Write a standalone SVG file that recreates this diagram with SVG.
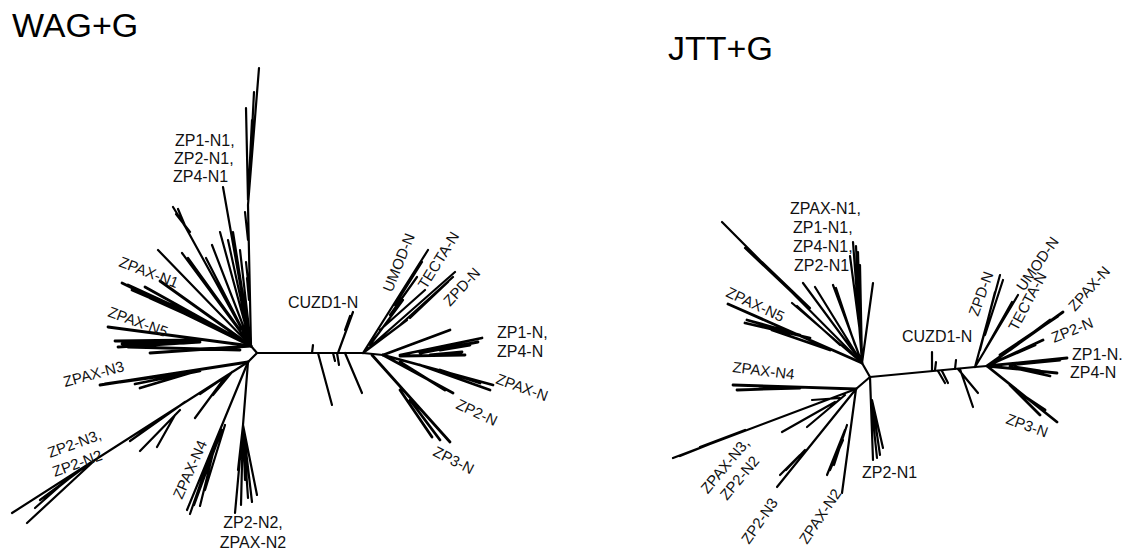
<svg xmlns="http://www.w3.org/2000/svg" width="1122" height="555" viewBox="0 0 1122 555">
<style>
.br{fill:none;stroke:#000;stroke-width:2.2;stroke-linecap:round;stroke-linejoin:round}
.th{stroke-width:2.8}
.lb{font-family:"Liberation Sans",Arial,sans-serif;font-size:16px;fill:#111}
.rt{font-size:15px}
.tt{font-family:"Liberation Sans",Arial,sans-serif;font-size:34px;fill:#000}
</style>
<rect width="1122" height="555" fill="#fff"/>
<g id="titles">
<text class="tt" x="12" y="37">WAG+G</text>
<text class="tt" x="668" y="60">JTT+G</text>
</g>
<g id="wag-tree">
<g id="wag-connectors">
<path class="br" d="M251,346 L257,353 L248,362 M257,353 L363,353 L383,355"/>
<path class="br" d="M251,346 L248,205 L259,68 M249,190 L254,92 M248,200 L246,108 M249,180 L252,120 M248,240 L245,212 M249,290 L246,262 M249,300 L247,278"/>
<path class="br" d="M251,346 L223,187 M251,346 L186,228 L173,207 M186,228 L178,209 M190,232 L176,214 M251,346 L182,253 M240,330 L188,258 M251,346 L158,250 M251,346 L220,232 M251,346 L212,245 M251,346 L233,232 M251,346 L240,250 M251,346 L228,240 M251,346 L206,258"/>
<path class="br th" d="M251,346 L122,283 M200,318 L128,285 M190,315 L132,290 M251,346 L145,287 M251,346 L160,281 M210,325 L150,298"/>
<path class="br th" d="M251,346 L108,327 M200,340 L115,341 M200,342 L118,347 M190,343 L122,344 M251,346 L150,353 M240,350 L128,347"/>
<path class="br th" d="M248,362 L100,385 M180,373 L105,384 M200,371 L135,384 M190,373 L140,388 M170,375 L120,382"/>
<path class="br" d="M248,362 L12,513 M95,460 L27,523 M222,379 L200,394 M226,376 L195,418 M232,372 L213,395 M185,402 L130,441 M180,410 L140,451 M175,415 L157,447 M90,463 L40,500 M70,477 L35,508 M80,470 L45,498"/>
<path class="br" d="M248,362 L187,510 M215,445 L200,506 M212,450 L190,514 M222,430 L196,497 M225,425 L205,490 M218,440 L194,505"/>
<path class="br" d="M248,362 L243,425 L235,513 M243,425 L241,505 M243,425 L248,498 M243,425 L252,502 M243,425 L257,495 M243,425 L238,470 M243,425 L245,480"/>
<path class="br" d="M312,353 L313,345 M318,353 L332,405 M333,353 L335,361 M337,353 L339,365 M338,353 L353,312 M345,330 L350,316 M345,353 L362,393"/>
<path class="br" d="M363,353 L428,250 M395,305 L422,262 M390,315 L417,277 M380,330 L425,290 M363,353 L455,272 M400,325 L453,277 M410,318 L448,282 M363,353 L407,320 M370,345 L403,300"/>
<path class="br th" d="M383,355 L450,330 M400,355 L482,338 M420,353 L478,342 M400,356 L465,355 M430,355 L462,352 M440,350 L470,345"/>
<path class="br th" d="M383,355 L493,385 M420,365 L490,390 M440,370 L480,383 M383,355 L453,393 M400,362 L445,390 M372,355 L450,442 M400,390 L432,437 M410,400 L440,440"/>
</g>
<g id="wag-labels" class="lb">
<text x="175" y="146">ZP1-N1,</text>
<text x="174" y="164">ZP2-N1,</text>
<text x="173" y="182">ZP4-N1</text>
<text class="rt" transform="translate(118,266) rotate(21)">ZPAX-N1</text>
<text class="rt" transform="translate(107,316) rotate(20)">ZPAX-N5</text>
<text class="rt" transform="translate(65,387) rotate(-15)">ZPAX-N3</text>
<g class="rt" transform="translate(50,458) rotate(-20)"><text x="0" y="0">ZP2-N3,</text><text x="-2" y="19.6">ZP2-N2</text></g>
<text class="rt" transform="translate(182,500) rotate(-66)">ZPAX-N4</text>
<text x="253" y="528" text-anchor="middle">ZP2-N2,</text>
<text x="253" y="548" text-anchor="middle">ZPAX-N2</text>
<text x="288" y="308">CUZD1-N</text>
<text class="rt" transform="translate(392,293) rotate(-68)">UMOD-N</text>
<text class="rt" transform="translate(426,290) rotate(-58)">TECTA-N</text>
<text class="rt" transform="translate(450,307) rotate(-47)">ZPD-N</text>
<text x="497" y="338">ZP1-N,</text>
<text x="497" y="357">ZP4-N</text>
<text class="rt" transform="translate(495,383) rotate(20)">ZPAX-N</text>
<text class="rt" transform="translate(455,408) rotate(25)">ZP2-N</text>
<text class="rt" transform="translate(432,455) rotate(27)">ZP3-N</text>
</g>
</g>
<g id="jtt-tree">
<g id="jtt-connectors">
<path class="br" d="M862,363 L870,377 L856,389 M870,377 L975,367 L987,366"/>
<path class="br" d="M862,363 L722,222 M800,300 L745,248 M810,308 L762,262 M862,363 L792,303 M840,345 L797,306"/>
<path class="br th" d="M862,363 L728,304 M800,335 L747,320 M810,338 L745,323 M830,350 L772,330"/>
<path class="br" d="M862,363 L803,283 M862,363 L815,287 M862,363 L833,285 M855,345 L836,288 M862,363 L853,242 M860,330 L856,246 M860,320 L858,252 M861,340 L850,256 M862,363 L860,265 M862,363 L873,283"/>
<path class="br th" d="M856,389 L733,385 M800,388 L737,390 M790,387 L752,386 M780,387 L760,388"/>
<path class="br" d="M856,389 L673,458 M720,440 L680,456 M745,430 L700,447 M840,398 L812,400 M845,395 L807,427 M835,402 L782,432"/>
<path class="br" d="M856,389 L777,487 M800,455 L780,475 M805,450 L786,470 M856,389 L842,493 M845,430 L827,475 M843,440 L830,470 M847,425 L834,465"/>
<path class="br" d="M870,377 L873,460 M872,400 L883,448 M872,400 L880,455 M872,410 L877,458"/>
<path class="br" d="M932,371 L932,352 M935,370 L936,362 M938,371 L945,383 M942,371 L948,383 M955,369 L956,360 M958,369 L978,393 M960,369 L973,407"/>
<path class="br" d="M975,367 L1000,275 M985,335 L1003,280 M980,350 L995,292 M975,367 L1018,295 M985,350 L1012,302"/>
<path class="br th" d="M987,366 L1063,312 M1000,355 L1058,316 M1010,350 L1050,320 M987,366 L1043,340 M1000,360 L1035,345 M987,366 L1067,358 M1010,365 L1060,360 M987,366 L1057,373 M1010,367 L1050,376 M1015,367 L1040,371 M987,366 L1057,422 M1010,385 L1040,415 M1015,390 L1045,410"/>
</g>
<g id="jtt-labels" class="lb">
<text x="790" y="214">ZPAX-N1,</text>
<text x="793" y="233">ZP1-N1,</text>
<text x="793" y="252">ZP4-N1,</text>
<text x="794" y="271">ZP2-N1</text>
<text class="rt" transform="translate(725,296) rotate(25)">ZPAX-N5</text>
<text class="rt" transform="translate(732,372) rotate(7)">ZPAX-N4</text>
<g class="rt" transform="translate(729,469) rotate(-50)" text-anchor="middle"><text x="0" y="0">ZPAX-N3,</text><text x="0" y="19">ZP2-N2</text></g>
<text class="rt" transform="translate(749,545) rotate(-55)">ZP2-N3</text>
<text class="rt" transform="translate(807,545) rotate(-56)">ZPAX-N2</text>
<text x="862" y="478">ZP2-N1</text>
<text x="902" y="342">CUZD1-N</text>
<text class="rt" transform="translate(978,317) rotate(-70)">ZPD-N</text>
<text class="rt" transform="translate(1024,292) rotate(-55)">UMOD-N</text>
<text class="rt" transform="translate(1017,332) rotate(-62)">TECTA-N</text>
<text class="rt" transform="translate(1075,312) rotate(-48)">ZPAX-N</text>
<text class="rt" transform="translate(1054,343) rotate(-22)">ZP2-N</text>
<text x="1072" y="360">ZP1-N.</text>
<text x="1070" y="378">ZP4-N</text>
<text class="rt" transform="translate(1005,423) rotate(20)">ZP3-N</text>
</g>
</g>
</svg>
